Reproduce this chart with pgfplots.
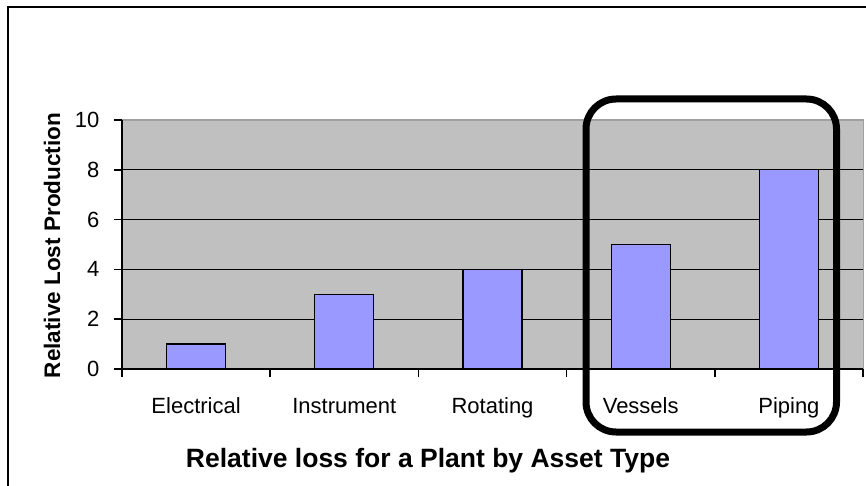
\documentclass[border=0pt]{standalone}
\usepackage{pgfplots}
\pgfplotsset{compat=1.18}
\usepackage{fontspec}
\setmainfont{Liberation Sans}
\definecolor{plotgray}{HTML}{C0C0C0}
\definecolor{barblue}{HTML}{9999FF}
\definecolor{edgegray}{HTML}{A0A0A0}
\begin{document}
\begin{tikzpicture}[x=1pt,y=1pt]
\useasboundingbox (0,0) rectangle (866,485);
\draw[line width=1.5pt] (8,-20) -- (8,478) -- (900,478);
\begin{axis}[
  at={(122pt,116pt)}, anchor=south west,
  scale only axis, width=741pt, height=249pt,
  xmin=-0.5, xmax=4.5, ymin=0, ymax=10,
  axis lines=left,
  axis line style={-, black, line width=1.6pt},
  axis background/.style={fill=plotgray, draw=edgegray, line width=1pt},
  ybar, bar width=59pt,
  ytick={0,2,4,6,8}, extra y ticks={10}, extra y tick style={grid=none},
  ymajorgrids, grid style={black, line width=1.3pt},
  xtick={0,1,2,3,4},
  xticklabels={Electrical,Instrument,Rotating,Vessels,Piping},
  major x tick style={draw=none},
  minor xtick={-0.5,0.5,1.5,2.5,3.5,4.5},
  minor tick length=8pt, major tick length=8pt,
  tick align=outside,
  tick style={black, line width=1.5pt},
  /pgf/number format/assume math mode=true,
  tick label style={font=\fontsize{22}{24}\selectfont},
  xticklabel style={anchor=base, yshift=-36pt},
  yticklabel style={anchor=east, xshift=-11pt},
]
\addplot[fill=barblue, draw=black, line width=1.3pt] coordinates {(0,1) (1,3) (2,4) (3,5) (4,8)};
\end{axis}
\draw[line width=7pt, rounded corners=30pt] (586,386) rectangle (836.5,53);
\node[anchor=base, font=\bfseries\fontsize{26.5}{30}\selectfont, inner sep=0pt] at (428,18) {Relative loss for a Plant by Asset Type};
\node[rotate=90, anchor=base, font=\bfseries\fontsize{22.5}{26}\selectfont, inner sep=0pt] at (60,239.5) {Relative Lost Production};
\end{tikzpicture}
\end{document}
